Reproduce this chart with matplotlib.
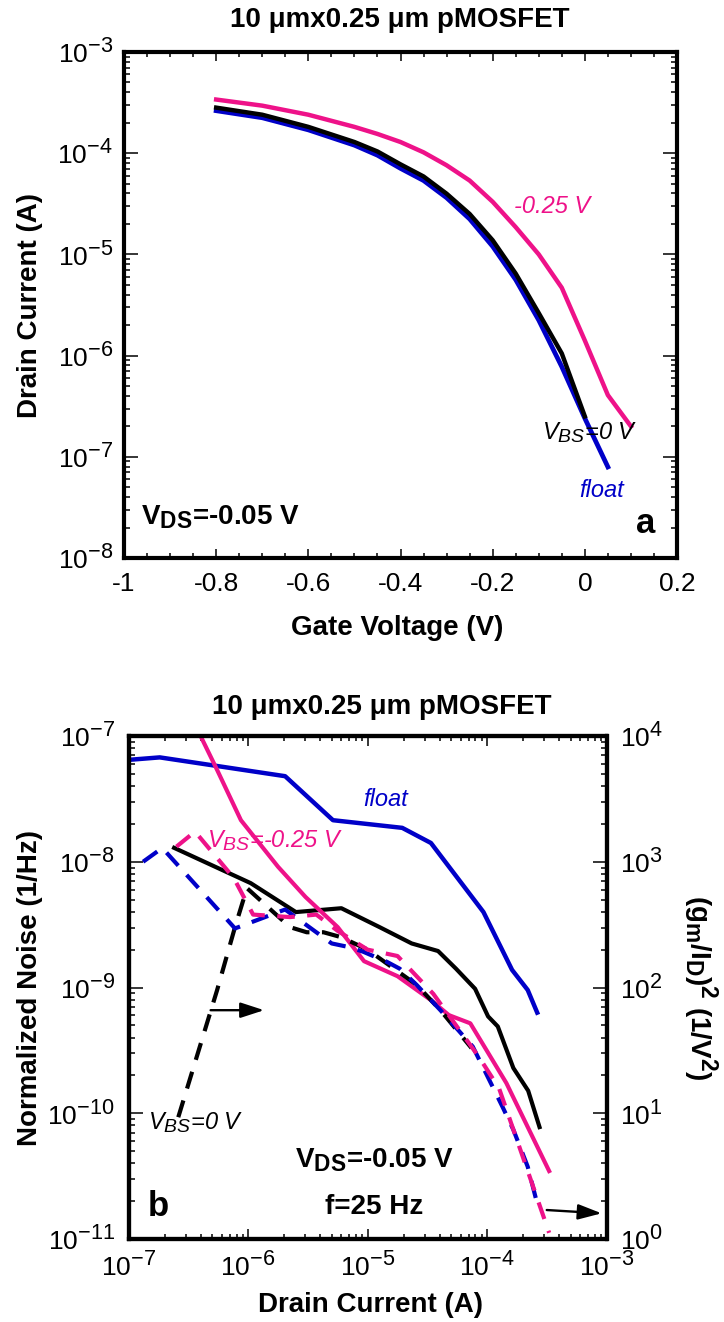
import numpy as np
import matplotlib
matplotlib.use('Agg')
import matplotlib.pyplot as plt
import matplotlib._mathtext as mathtext_internal
from matplotlib.ticker import MultipleLocator, LogLocator, FuncFormatter, NullFormatter

plt.rcParams['font.family'] = ['Liberation Sans', 'DejaVu Sans']
plt.rcParams['mathtext.fontset'] = 'custom'
plt.rcParams['mathtext.rm'] = 'Liberation Sans'
plt.rcParams['mathtext.it'] = 'Liberation Sans:italic'
plt.rcParams['mathtext.bf'] = 'Liberation Sans:bold'
plt.rcParams['axes.unicode_minus'] = False
# larger sub/superscripts, closer to the old plotting-package look
mathtext_internal.SHRINK_FACTOR = 0.82

PINK = '#EE1289'
BLUE = '#0000C8'

# (a) transfer curves at V_DS = -0.05 V
vg = [-0.8, -0.7, -0.6, -0.5, -0.45, -0.4, -0.35, -0.3, -0.25, -0.2,
      -0.15, -0.1, -0.05, 0.0, 0.05, 0.1]
id_vbs_m025 = [3.39e-4, 2.95e-4, 2.40e-4, 1.82e-4, 1.55e-4, 1.29e-4, 1.02e-4, 7.6e-5,
               5.37e-5, 3.31e-5, 1.86e-5, 1.0e-5, 4.68e-6, 1.41e-6, 4.07e-7, 2.0e-7]
id_vbs_0 = [2.82e-4, 2.40e-4, 1.82e-4, 1.29e-4, 1.04e-4, 7.76e-5, 5.89e-5, 3.98e-5,
            2.51e-5, 1.38e-5, 6.46e-6, 2.63e-6, 1.05e-6, 2.51e-7]
id_float = [2.63e-4, 2.24e-4, 1.70e-4, 1.20e-4, 9.55e-5, 7.08e-5, 5.37e-5, 3.63e-5,
            2.24e-5, 1.20e-5, 5.62e-6, 2.24e-6, 7.76e-7, 2.40e-7, 7.94e-8]

# (b) normalized noise at f = 25 Hz (solid, left axis)
id_n_float = [1.0e-7, 1.82e-7, 2.04e-6, 5.13e-6, 1.95e-5, 3.39e-5, 9.33e-5, 1.62e-4,
              2.19e-4, 2.63e-4]
sn_float = [6.46e-8, 6.76e-8, 4.79e-8, 2.14e-8, 1.86e-8, 1.41e-8, 3.98e-9, 1.38e-9,
            9.55e-10, 6.31e-10]
id_n_0 = [2.40e-7, 1.05e-6, 2.51e-6, 6.03e-6, 1.26e-5, 2.34e-5, 3.89e-5, 5.5e-5,
          7.94e-5, 1.02e-4, 1.23e-4, 1.66e-4, 2.21e-4, 2.75e-4]
sn_0 = [1.29e-8, 6.76e-9, 3.98e-9, 4.27e-9, 3.02e-9, 2.24e-9, 1.95e-9, 1.41e-9,
        9.77e-10, 5.89e-10, 4.9e-10, 2.29e-10, 1.51e-10, 7.76e-11]
id_n_m025 = [3.55e-7, 5.5e-7, 8.7e-7, 1.78e-6, 3.02e-6, 5.62e-6, 9.33e-6, 1.78e-5,
             3.39e-5, 4.79e-5, 7.24e-5, 1.45e-4, 3.31e-4]
sn_m025 = [1.26e-7, 5.37e-8, 2.14e-8, 9.12e-9, 5.25e-9, 3.02e-9, 1.62e-9, 1.23e-9,
           7.94e-10, 6.03e-10, 5.19e-10, 1.74e-10, 3.47e-11]

# (b) (gm/ID)^2 (dashed, right axis)
id_g_float = [1.32e-7, 1.91e-7, 7.76e-7, 2.04e-6, 3.72e-6, 5.01e-6, 7.08e-6, 9.12e-6,
              1.45e-5, 1.86e-5, 2.57e-5, 4.07e-5, 5.75e-5, 7.59e-5, 9.77e-5, 1.35e-4,
              1.66e-4, 2.19e-4, 2.63e-4]
g2_float = [1000, 1288, 295, 417, 275, 224, 209, 193, 160, 141, 105, 66, 45.7, 33.9,
            20.9, 11.2, 7.4, 3.76, 1.91]
id_g_0 = [2.6e-7, 5.5e-7, 7.76e-7, 9.77e-7, 2.24e-6, 3.09e-6, 4.27e-6, 6.03e-6, 1.0e-5,
          1.41e-5, 2.57e-5, 4.07e-5, 7.41e-5]
g2_0 = [9.3, 95.5, 302, 617, 302, 275, 275, 251, 200, 158, 105, 66, 33]
id_g_m025 = [2.51e-7, 3.59e-7, 7.59e-7, 1.1e-6, 2.24e-6, 3.72e-6, 5.62e-6, 1.0e-5,
             1.78e-5, 3.55e-5, 8.51e-5, 1.26e-4, 1.58e-4, 3.31e-4]
g2_m025 = [1318, 1738, 741, 380, 363, 380, 282, 200, 178, 89, 28.2, 15.8, 8.5, 1.12]

W, H = 724, 1322
fig = plt.figure(figsize=(W / 100, H / 100), dpi=100)


def fx(px):
    return px / W


def fy(py):
    return 1 - py / H


def dec_fmt(v, pos):
    return r'$10^{%d}$' % int(round(np.log10(v)))


def volt_fmt(v, pos):
    # adding 0.0 turns -0.0 into 0.0
    return '%g' % (round(v, 2) + 0.0)


def decades(lo, hi):
    # decade ticks that lie inside [lo, hi] only
    return [10.0 ** e for e in range(int(round(np.log10(lo))), int(round(np.log10(hi))) + 1)]


TICK_FS = 19
LAB_FS = 20
SPINE_W = 3.0

# ---------------- panel a ----------------
ax1 = fig.add_axes([fx(124), fy(558), fx(677) - fx(124), fy(52) - fy(558)])
ax1.semilogy(vg[:len(id_float)], id_float, color=BLUE, lw=3.4)
ax1.semilogy(vg[:len(id_vbs_0)], id_vbs_0, color='black', lw=3.2)
ax1.semilogy(vg[:len(id_vbs_m025)], id_vbs_m025, color=PINK, lw=3.2)
ax1.set_xticks(np.round(np.arange(-1.0, 0.21, 0.2), 2))
ax1.xaxis.set_minor_locator(MultipleLocator(0.05))
ax1.xaxis.set_major_formatter(FuncFormatter(volt_fmt))
ax1.set_yticks(decades(1e-8, 1e-3))
ax1.yaxis.set_minor_locator(LogLocator(base=10, subs=np.arange(2, 10)))
ax1.yaxis.set_major_formatter(FuncFormatter(dec_fmt))
ax1.yaxis.set_minor_formatter(NullFormatter())
ax1.set_xlim(-1, 0.2)
ax1.set_ylim(1e-8, 1e-3)
ax1.tick_params(which='both', direction='in', top=True, right=True, width=1.1)
ax1.tick_params(axis='x', which='major', length=6.5, labelsize=TICK_FS, pad=10)
ax1.tick_params(axis='x', which='minor', length=3.5)
ax1.tick_params(axis='y', which='major', length=10, labelsize=TICK_FS, pad=8)
ax1.tick_params(axis='y', which='minor', length=4.5)
for s in ax1.spines.values():
    s.set_linewidth(SPINE_W)

ax1.text(0.705, 0.694, '-0.25 V', color=PINK, style='italic', fontsize=17,
         transform=ax1.transAxes, va='center')
ax1.text(0.755, 0.247, r'$V_{BS}$=0 V', style='italic', fontsize=17,
         transform=ax1.transAxes, va='center')
ax1.text(0.823, 0.134, 'float', color=BLUE, style='italic', fontsize=17,
         transform=ax1.transAxes, va='center')
ax1.text(0.031, 0.081, r'$\mathbf{V_{DS}}$=-0.05 V', fontweight='bold', fontsize=LAB_FS,
         transform=ax1.transAxes, va='center')
ax1.text(0.926, 0.069, 'a', fontweight='bold', fontsize=25,
         transform=ax1.transAxes, va='center')

fig.text(fx(400), fy(20), '10 μmx0.25 μm pMOSFET', fontweight='bold', fontsize=LAB_FS,
         ha='center', va='center')
fig.text(fx(30), fy(305), 'Drain Current (A)', fontweight='bold', fontsize=LAB_FS,
         rotation=90, ha='center', va='center')
fig.text(fx(397), fy(628), 'Gate Voltage (V)', fontweight='bold', fontsize=LAB_FS,
         ha='center', va='center')

# ---------------- panel b ----------------
ax2 = fig.add_axes([fx(128.7), fy(1239), fx(606.5) - fx(128.7), fy(736) - fy(1239)])
axr = ax2.twinx()
ax2.loglog(id_n_float, sn_float, color=BLUE, lw=3.2)
ax2.loglog(id_n_0, sn_0, color='black', lw=3.0)
ax2.loglog(id_n_m025, sn_m025, color=PINK, lw=3.0)

dash = (4.2, 3.0)
axr.loglog(id_g_0, g2_0, color='black', lw=3.0, dashes=dash)
axr.loglog(id_g_float, g2_float, color=BLUE, lw=3.0, dashes=dash)
axr.loglog(id_g_m025, g2_m025, color=PINK, lw=3.0, dashes=dash)

ax2.set_xticks(decades(1e-7, 1e-3))
ax2.set_yticks(decades(1e-11, 1e-7))
axr.set_yticks(decades(1, 1e4))
for a in (ax2, axr):
    a.xaxis.set_minor_locator(LogLocator(base=10, subs=np.arange(2, 10)))
    a.xaxis.set_major_formatter(FuncFormatter(dec_fmt))
    a.xaxis.set_minor_formatter(NullFormatter())
    a.yaxis.set_minor_locator(LogLocator(base=10, subs=np.arange(2, 10)))
    a.yaxis.set_major_formatter(FuncFormatter(dec_fmt))
    a.yaxis.set_minor_formatter(NullFormatter())
    for s in a.spines.values():
        s.set_linewidth(SPINE_W)
ax2.set_xlim(1e-7, 1e-3)
ax2.set_ylim(1e-11, 1e-7)
axr.set_ylim(1, 1e4)
ax2.tick_params(which='both', direction='in', top=True, right=False, width=1.1)
ax2.tick_params(axis='x', which='major', length=7.5, labelsize=TICK_FS, pad=10)
ax2.tick_params(axis='x', which='minor', length=3.5)
ax2.tick_params(axis='y', which='major', length=10, labelsize=TICK_FS, pad=10)
ax2.tick_params(axis='y', which='minor', length=4.5)
axr.tick_params(which='both', direction='in', width=1.1)
axr.tick_params(axis='y', which='major', length=10, labelsize=TICK_FS, pad=10)
axr.tick_params(axis='y', which='minor', length=4.5)

# arrows pointing to the right-hand axis
arrow = dict(arrowstyle='-|>, head_length=0.8, head_width=0.26', color='black',
             lw=1.7, mutation_scale=18, shrinkA=0, shrinkB=0)
axr.annotate('', xy=(1.36e-6, 66), xytext=(4.85e-7, 66), arrowprops=arrow)
axr.annotate('', xy=(9.1e-4, 1.6), xytext=(3.16e-4, 1.7), arrowprops=arrow)

axr.text(0.5385, 0.873, 'float', color=BLUE, style='italic', fontsize=17,
         transform=ax2.transAxes, ha='center', va='center')
axr.text(0.164, 0.793, r'$V_{BS}$=-0.25 V', color=PINK, style='italic', fontsize=17,
         transform=ax2.transAxes, va='center')
axr.text(0.04, 0.231, r'$V_{BS}$=0 V', style='italic', fontsize=17,
         transform=ax2.transAxes, va='center')
axr.text(0.514, 0.157, r'$\mathbf{V_{DS}}$=-0.05 V', fontweight='bold', fontsize=LAB_FS,
         transform=ax2.transAxes, ha='center', va='center')
axr.text(0.514, 0.064, 'f=25 Hz', fontweight='bold', fontsize=LAB_FS,
         transform=ax2.transAxes, ha='center', va='center')
axr.text(0.04, 0.064, 'b', fontweight='bold', fontsize=25,
         transform=ax2.transAxes, va='center')

fig.text(fx(382), fy(707), '10 μmx0.25 μm pMOSFET', fontweight='bold', fontsize=LAB_FS,
         ha='center', va='center')
fig.text(fx(30), fy(988), 'Normalized Noise (1/Hz)', fontweight='bold', fontsize=LAB_FS,
         rotation=90, ha='center', va='center')
fig.text(fx(700), fy(988), r'$\mathbf{(g_m/I_D)^2\ (1/V^2)}$', fontsize=LAB_FS,
         rotation=270, ha='center', va='center')
fig.text(fx(370), fy(1305), 'Drain Current (A)', fontweight='bold', fontsize=LAB_FS,
         ha='center', va='center')

fig.savefig('out.png', dpi=100)
